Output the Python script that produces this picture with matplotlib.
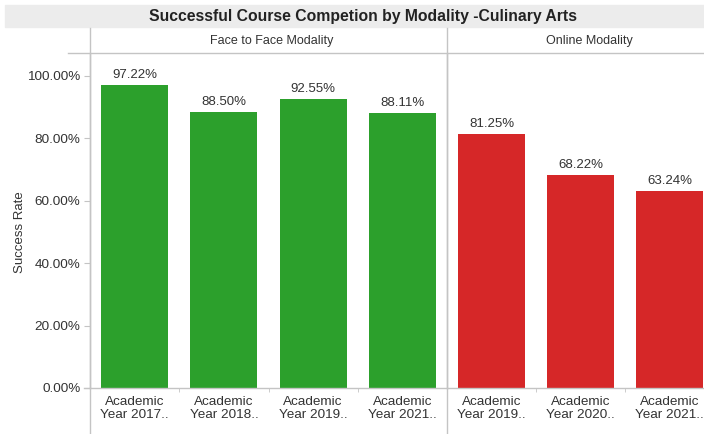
import matplotlib
matplotlib.use("Agg")
import matplotlib.pyplot as plt
from matplotlib.lines import Line2D
from matplotlib.patches import Rectangle
from matplotlib.ticker import FixedLocator

plt.rcParams['font.family'] = ['Liberation Sans', 'DejaVu Sans']

title = "Successful Course Competion by Modality -Culinary Arts"
y_label = "Success Rate"

f2f_title = "Face to Face Modality"
f2f_years = ["Academic\nYear 2017..", "Academic\nYear 2018..",
             "Academic\nYear 2019..", "Academic\nYear 2021.."]
f2f_rates = [97.22, 88.50, 92.55, 88.11]

online_title = "Online Modality"
online_years = ["Academic\nYear 2019..", "Academic\nYear 2020..",
                "Academic\nYear 2021.."]
online_rates = [81.25, 68.22, 63.24]

y_ticks = [0, 20, 40, 60, 80, 100]

GREEN = "#2ca02c"
RED = "#d62728"
LINE = "#c4c4c4"
TEXT = "#333333"

W, H = 704, 434
fig = plt.figure(figsize=(W / 100, H / 100), dpi=100)


def fx(px):
    return px / W


def fy(py):
    return 1 - py / H


# layout in pixels
left1, split, right2 = 90, 447, 714
top_plot, base = 53, 388
ymax = (base - top_plot) / 3.12

ax1 = fig.add_axes([fx(left1), fy(base), fx(split - left1), fy(top_plot) - fy(base)])
ax2 = fig.add_axes([fx(split), fy(base), fx(right2 - split), fy(top_plot) - fy(base)])

for ax, years, rates, color in ((ax1, f2f_years, f2f_rates, GREEN),
                                (ax2, online_years, online_rates, RED)):
    x = range(len(rates))
    ax.bar(x, rates, width=0.75, color=color, zorder=2)
    for xi, v in zip(x, rates):
        ax.text(xi, v + 1.3, f"{v:.2f}%", ha="center", va="bottom",
                fontsize=9.5, color=TEXT)
    ax.set_xlim(-0.5, len(rates) - 0.5)
    ax.set_ylim(0, ymax)
    ax.set_xticks(list(x))
    ax.set_xticklabels(years, fontsize=9.7, color=TEXT, linespacing=1.1)
    ax.tick_params(axis="x", which="major", length=0, pad=6)
    ax.xaxis.set_minor_locator(FixedLocator([i + 0.5 for i in range(len(rates) - 1)]))
    ax.tick_params(axis="x", which="minor", length=3, color=LINE, direction="out")
    for s in ("top", "right"):
        ax.spines[s].set_visible(False)
    for s in ("left", "bottom"):
        ax.spines[s].set_color(LINE)
        ax.spines[s].set_linewidth(1)
    ax.set_facecolor("none")

ax1.set_yticks(y_ticks)
ax1.set_yticklabels([f"{t:.2f}%" for t in y_ticks], fontsize=9.7, color=TEXT)
ax1.tick_params(axis="y", length=4, color=LINE, pad=3)
ax1.set_ylabel(y_label, fontsize=9.5, color=TEXT, va="center")
# centre the axis title on the 0-100% span
ax1.yaxis.set_label_coords((20 - left1) / (split - left1),
                           (base - 232) / (base - top_plot))
ax2.set_yticks([])

# title band
fig.patches.append(Rectangle((fx(5), fy(27)), fx(W - 5), fy(5) - fy(27),
                             transform=fig.transFigure, color="#ececec", zorder=0))
fig.text(fx(363), fy(16), title, ha="center", va="center",
         fontsize=11.3, fontweight="bold", color="#222222")

# panel headers
fig.text(fx(272), fy(41), f2f_title, ha="center", va="center", fontsize=9, color=TEXT)
fig.text(fx(589), fy(41), online_title, ha="center", va="center", fontsize=9, color=TEXT)

# grid frame lines
for xp in (left1, split):
    fig.add_artist(Line2D([fx(xp), fx(xp)], [fy(28), fy(H)], color=LINE, lw=1,
                          transform=fig.transFigure))
fig.add_artist(Line2D([fx(68), fx(W)], [fy(top_plot), fy(top_plot)], color=LINE, lw=1,
                      transform=fig.transFigure))
fig.add_artist(Line2D([fx(84), fx(left1)], [fy(base), fy(base)], color=LINE, lw=1,
                      transform=fig.transFigure))

fig.savefig("out.png", dpi=100, facecolor="white")
